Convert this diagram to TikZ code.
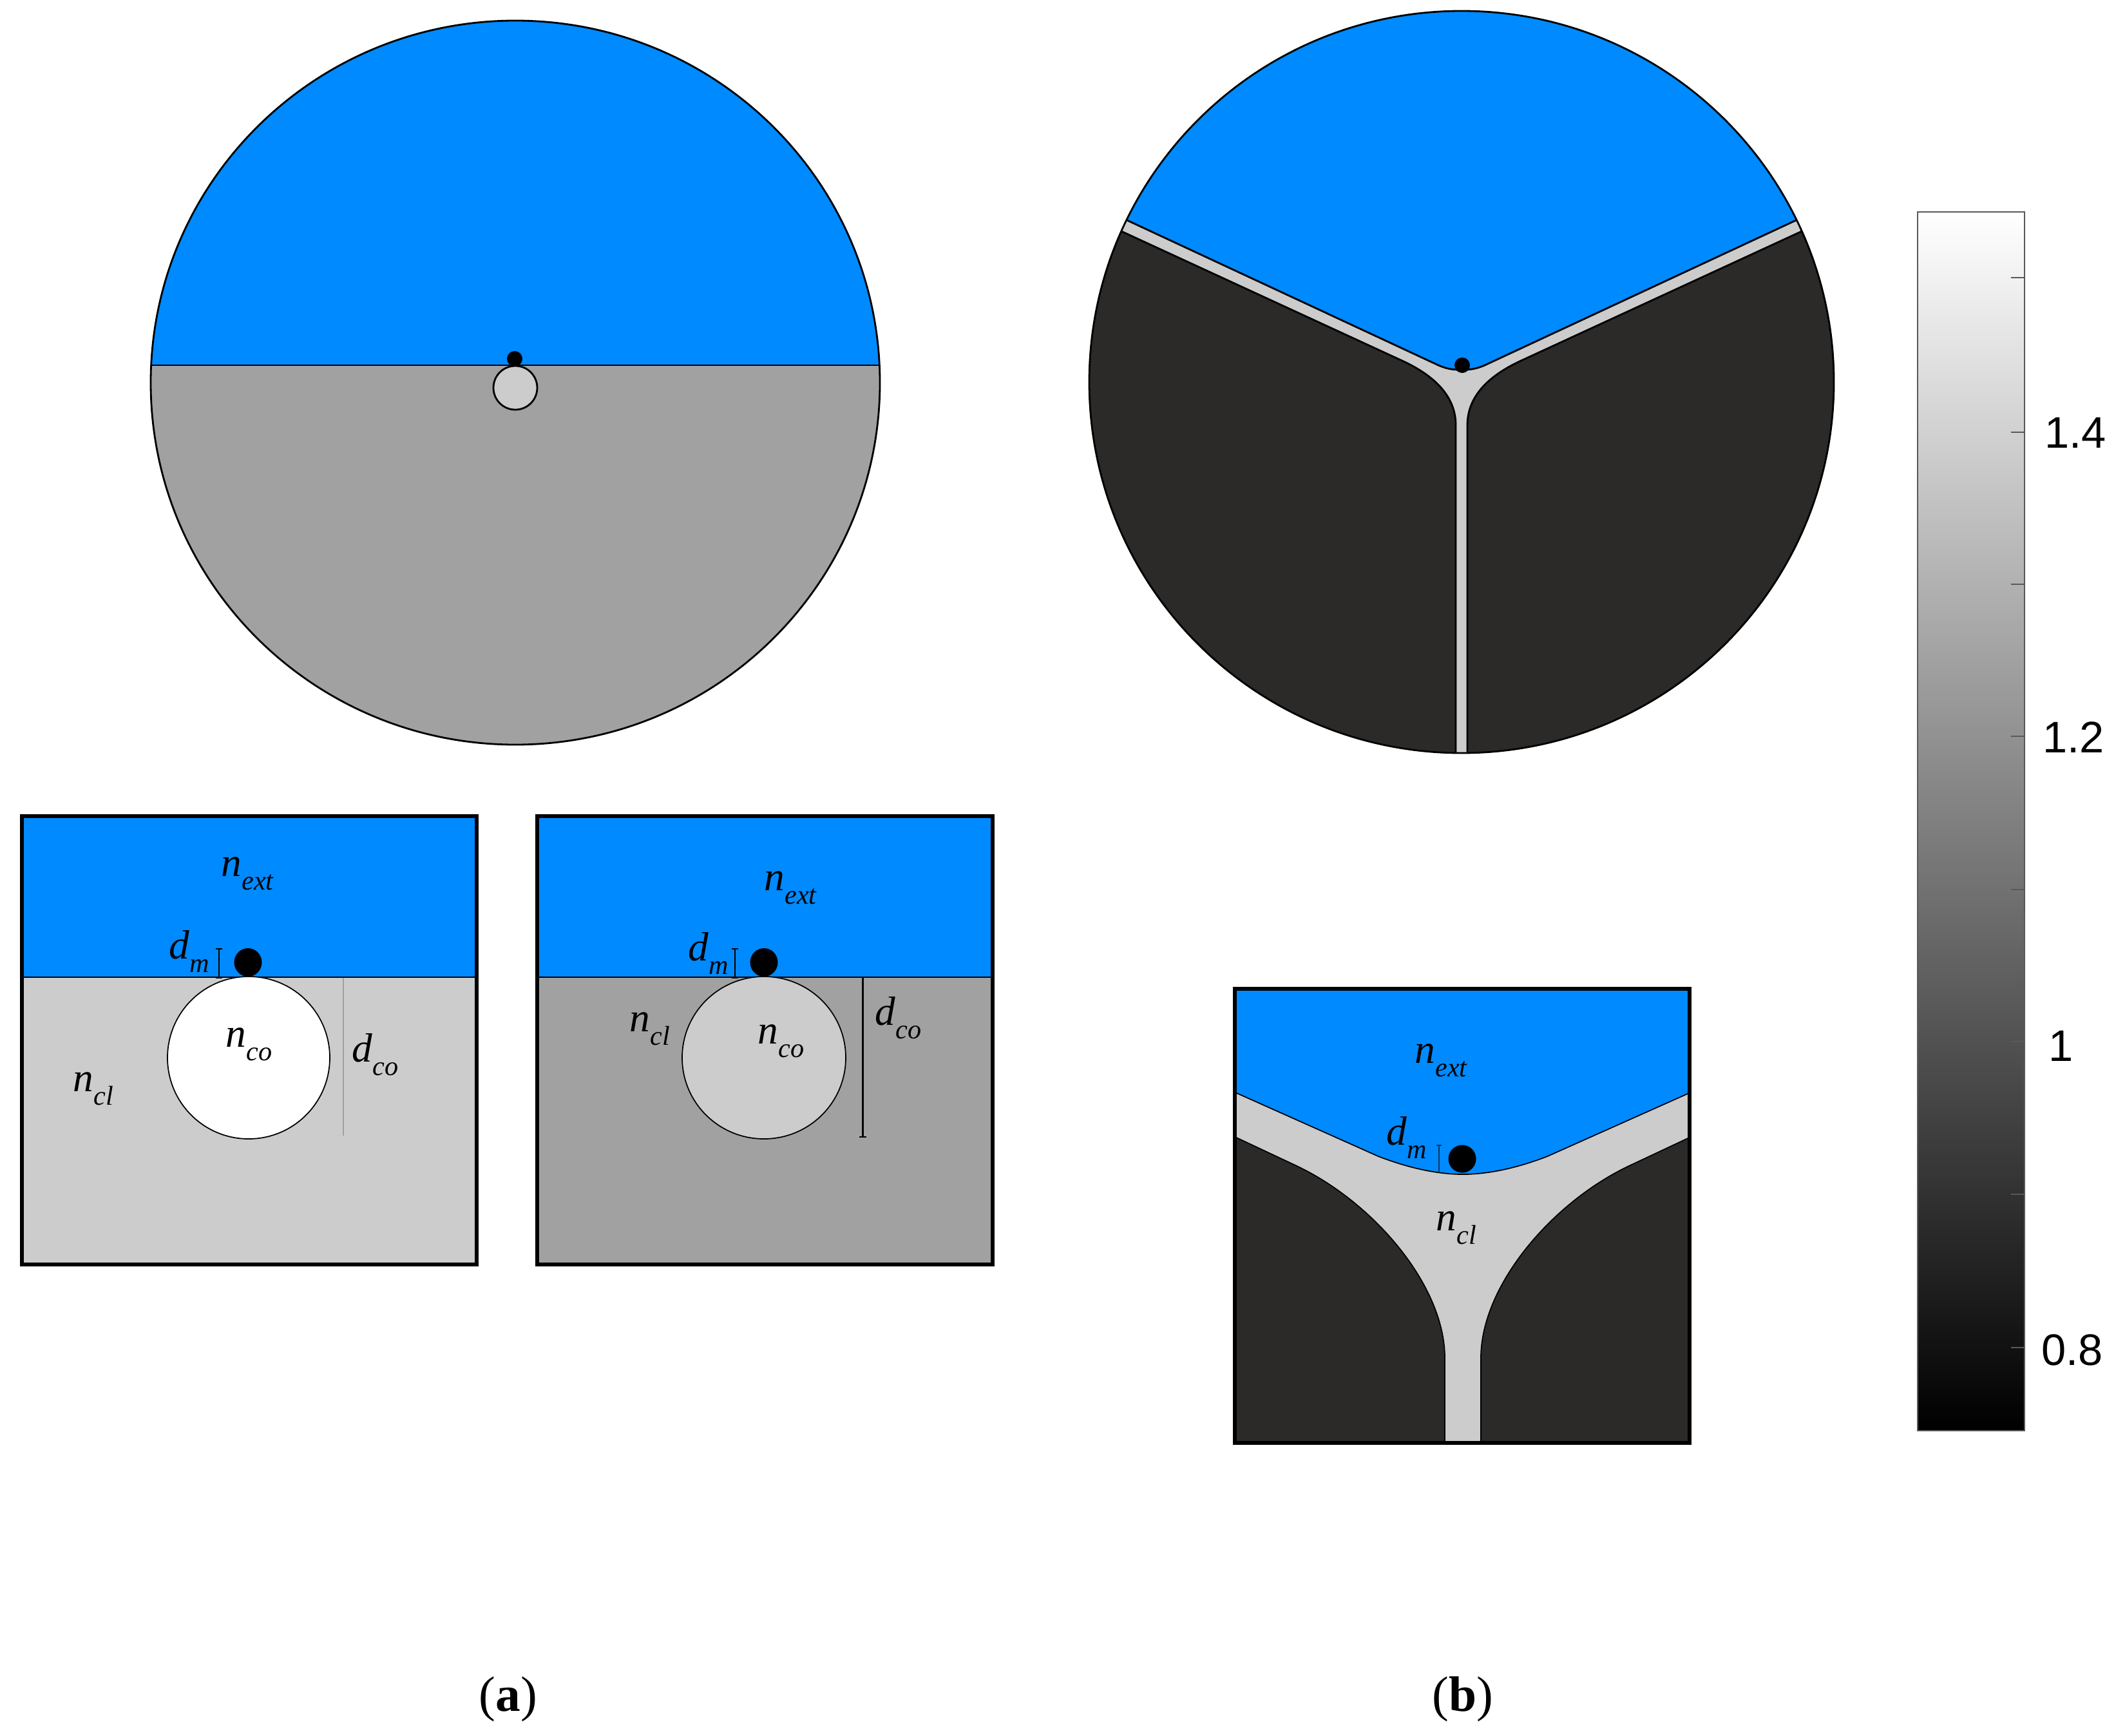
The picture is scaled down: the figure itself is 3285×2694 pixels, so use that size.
\documentclass[tikz,border=0pt]{standalone}
\usepackage{fontspec}
\setmainfont{Liberation Serif}
\newfontfamily\barfont{Liberation Sans}
\definecolor{ext}{HTML}{008AFF}
\definecolor{cllight}{HTML}{CCCCCC}
\definecolor{clmid}{HTML}{A1A1A1}
\definecolor{cldark}{HTML}{2B2A29}
\newcommand{\symlab}[2]{\fontsize{18}{18}\selectfont\itshape #1\raisebox{-6.2pt}{\fontsize{12}{12}\selectfont #2}}
\tikzset{
	lab/.style={anchor=base west,inner sep=0pt},
	tickval/.style={anchor=center,inner sep=0pt,font=\barfont\fontsize{19.5}{19.5}\selectfont},
	caption/.style={anchor=base,inner sep=0pt,font=\fontsize{22}{22}\selectfont},
	outline/.style={draw=black,line width=0.8pt},
	thinline/.style={draw=black,line width=0.5pt},
	boxframe/.style={draw=black,line width=1.7pt},
	gauge/.style={draw=black,line width=0.6pt}
}
\begin{document}
\begin{tikzpicture}[x=0.01cm,y=-0.01cm]
\useasboundingbox (0,0) rectangle (3285,2694);
\begin{scope}
	\clip (800,594) ellipse [x radius=566,y radius=562];
	\fill[clmid] (200,0) rectangle (1400,1200);
	\fill[ext] (200,0) rectangle (1400,567);
	\draw[outline] (200,567) -- (1400,567);
\end{scope}
\draw[outline] (800,594) ellipse [x radius=566,y radius=562];
\filldraw[fill=cllight,outline] (800,602) ellipse [x radius=34,y radius=34];
\fill[black] (799,557) ellipse [x radius=12,y radius=12];
\begin{scope}
	\clip (2269,593) ellipse [x radius=578,y radius=576];
	\fill[cllight] (1600,0) rectangle (2900,1200);
	\begin{scope}[shift={(2269,0)}]
		\filldraw[fill=ext,outline] (-600,305) -- (-517,343) -- (-36,567) .. controls (-20,574) and (-10,574) .. (0,574) .. controls (10,574) and (20,574) .. (36,567) -- (517,343) -- (600,305) -- (600,-10) -- (-600,-10) -- cycle;
		\foreach \s in {-1,1} {
			\begin{scope}[xscale=\s]
				\filldraw[fill=cldark,outline] (-600,326) -- (-526,360) -- (-90,561) .. controls (-50,580) and (-9,610) .. (-9,660) -- (-9,1200) -- (-600,1200) -- cycle;
			\end{scope}
		}
	\end{scope}
\end{scope}
\draw[outline] (2269,593) ellipse [x radius=578,y radius=576];
\fill[black] (2270,567) ellipse [x radius=12,y radius=12];
\fill[cllight] (34,1517) rectangle (740,1963);
\fill[ext] (34,1267) rectangle (740,1517);
\draw[thinline] (34,1517) -- (740,1517);
\filldraw[fill=white,thinline] (386,1642) ellipse [x radius=126,y radius=126];
\fill[black] (385,1494) ellipse [x radius=21.5,y radius=22];
\draw[gauge] (340,1518) -- (340,1473);
\draw[gauge] (335,1473) -- (345,1473);
\draw[gauge] (335,1518) -- (345,1518);
\draw[draw=clmid,line width=0.5pt] (533,1518) -- (533,1763);
\draw[boxframe] (34,1267) rectangle (740,1963);
\node[lab] (nextA) at (343,1360) {\symlab{n}{ext}};
\node[lab] (dmA) at (262,1488) {\symlab{d}{m}};
\node[lab] (ncoA) at (350,1625) {\symlab{n}{co}};
\node[lab] (dcoA) at (546,1648) {\symlab{d}{co}};
\node[lab] (nclA) at (113,1694) {\symlab{n}{cl}};
\fill[clmid] (834,1517) rectangle (1541,1963);
\fill[ext] (834,1267) rectangle (1541,1517);
\draw[thinline] (834,1517) -- (1541,1517);
\filldraw[fill=cllight,thinline] (1186,1642) ellipse [x radius=127,y radius=126];
\fill[black] (1186,1494) ellipse [x radius=21.5,y radius=22];
\draw[gauge] (1141,1518) -- (1141,1473);
\draw[gauge] (1136,1473) -- (1146,1473);
\draw[gauge] (1136,1518) -- (1146,1518);
\draw[gauge] (1334,1517) -- (1345,1517);
\draw[gauge] (1339.5,1517) -- (1339.5,1765);
\draw[gauge] (1334,1765) -- (1345,1765);
\draw[boxframe] (834,1267) rectangle (1541,1963);
\node[lab] (nextB) at (1186,1382) {\symlab{n}{ext}};
\node[lab] (dmB) at (1068,1491) {\symlab{d}{m}};
\node[lab] (nclB) at (977,1601) {\symlab{n}{cl}};
\node[lab] (ncoB) at (1176,1620) {\symlab{n}{co}};
\node[lab] (dcoB) at (1358,1591) {\symlab{d}{co}};
\begin{scope}
	\clip (1917,1535) rectangle (2623,2240);
	\fill[cllight] (1917,1535) rectangle (2623,2240);
	\begin{scope}[shift={(2271,0)}]
		\filldraw[fill=ext,thinline] (-360,1693) -- (-131.5,1795) .. controls (-85,1813) and (-40,1823) .. (0,1823) .. controls (40,1823) and (85,1813) .. (131.5,1795) -- (360,1693) -- (360,1500) -- (-360,1500) -- cycle;
		\foreach \s in {-1,1} {
			\begin{scope}[xscale=\s]
				\filldraw[fill=cldark,thinline] (-360,1762) -- (-260,1809) .. controls (-140,1865) and (-28,1995) .. (-28,2108) -- (-28,2260) -- (-360,2260) -- cycle;
			\end{scope}
		}
	\end{scope}
\end{scope}
\fill[black] (2270,1799) ellipse [x radius=21.5,y radius=21.5];
\draw[draw=black!60!ext,line width=0.4pt] (2234,1778) -- (2234,1820);
\draw[draw=black!60!ext,line width=0.4pt] (2230,1778) -- (2238,1778);
\draw[boxframe] (1917,1535) rectangle (2623,2240);
\node[lab] (nextC) at (2196,1650) {\symlab{n}{ext}};
\node[lab] (dmC) at (2152,1777) {\symlab{d}{m}};
\node[lab] (nclC) at (2229,1910) {\symlab{n}{cl}};
\shade[top color=white,bottom color=black] (2977,329) rectangle (3143,2221);
\draw[draw=black!65,line width=0.8pt] (2977,329) rectangle (3143,2221);
\foreach \y in {431,671,907,1143,1381,1617,1854,2092}
	\draw[draw=black!65,line width=0.5pt] (3122,\y) -- (3143,\y);
\node[tickval] (tickA) at (3222,672) {1.4};
\node[tickval] (tickB) at (3219,1145) {1.2};
\node[tickval] (tickC) at (3200,1624) {1};
\node[tickval] (tickD) at (3217,2096) {0.8};
\node[caption] (capA) at (789,2656) {(\textbf{a})};
\node[caption] (capB) at (2271,2656) {(\textbf{b})};
\end{tikzpicture}
\end{document}
